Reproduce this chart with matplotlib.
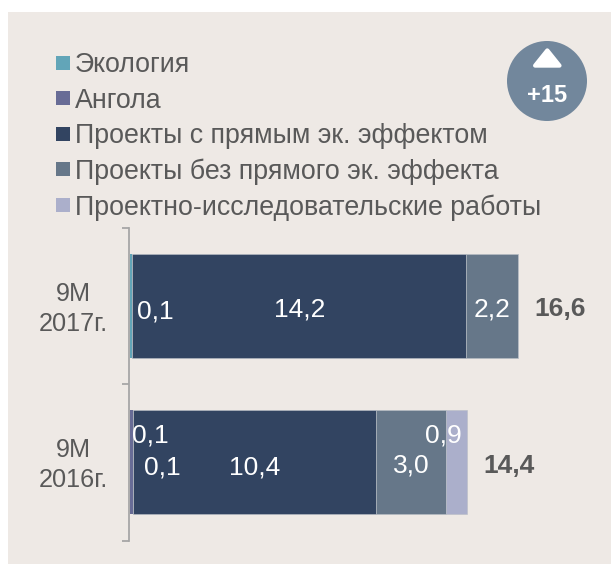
import matplotlib
matplotlib.use('Agg')
import matplotlib.pyplot as plt
from matplotlib.patches import Circle, Polygon, Rectangle

W, H = 611, 564

# data
periods = ['9M\n2017г.', '9M\n2016г.']
series_names = ['Экология', 'Ангола', 'Проекты с прямым эк. эффектом',
                'Проекты без прямого эк. эффекта', 'Проектно-исследовательские работы']
ecology = [0.1, 0.02]
angola = [0.0, 0.1]
direct = [14.25, 10.4]
indirect = [2.25, 3.0]
research = [0.0, 0.9]
totals = ['16,6', '14,4']
value_labels = ['0,1', '14,2', '2,2', '0,1', '0,1', '10,4', '0,9', '3,0']
badge_value = '+15'

colors = ['#62A5B8', '#686C96', '#324461', '#667789', '#ABAFCB']
bg = '#EEE9E5'
grey = '#595959'

plt.rcParams['font.family'] = ['Liberation Sans', 'DejaVu Sans']

fig = plt.figure(figsize=(W / 100, H / 100), dpi=100, facecolor='white')


def pixel_axes(zorder):
    a = fig.add_axes([0, 0, 1, 1], zorder=zorder)
    a.set_xlim(0, W)
    a.set_ylim(H, 0)
    a.axis('off')
    return a


back = pixel_axes(0)
back.add_patch(Rectangle((8, 12), W - 8, H - 12, facecolor=bg, edgecolor='none'))

# bars: 23.4 px per unit, left edge at x=130, axis spans y=228..540.5
left, right = 130, 600
top, bottom = 228, 540.5
ax = fig.add_axes([left / W, 1 - bottom / H, (right - left) / W, (bottom - top) / H], zorder=1)
ax.patch.set_alpha(0)
ax.set_xlim(0, (right - left) / 23.4)
ax.set_ylim(2, 0)
ypos = [0.5, 1.5]
start = [0.0, 0.0]
for i, (vals, c) in enumerate(zip([ecology, angola, direct, indirect, research], colors)):
    thin = i < 2
    ax.barh(ypos, vals, height=0.666, left=start, color=c, edgecolor='none' if thin else '#B9BEC6',
            linewidth=0 if thin else 0.4, zorder=3 if thin else 2)
    start = [s + v for s, v in zip(start, vals)]

for s in ['top', 'right', 'bottom']:
    ax.spines[s].set_visible(False)
ax.spines['left'].set_color('#A6A6A6')
ax.spines['left'].set_linewidth(1.3)
ax.spines['left'].set_position(('outward', 1))
ax.set_yticks([0, 1, 2])
ax.set_yticklabels([])
ax.set_xticks([])
ax.tick_params(axis='y', length=5, width=1.3, color='#A6A6A6')

front = pixel_axes(2)

# legend
legend_y = [62.5, 98, 133.5, 169, 205]
for name, c, y in zip(series_names, colors, legend_y):
    front.add_patch(Rectangle((56, y - 7), 14, 14, facecolor=c, edgecolor='none'))
    front.text(75, y + 2.5, name, fontsize=19.3, color=grey, ha='left', va='center')

# badge
front.add_patch(Circle((547, 81), 40, facecolor='#72879C', edgecolor='none'))
front.add_patch(Polygon([[547.3, 50.4], [559.5, 65.6], [535.1, 65.6]], closed=True, facecolor='white',
                        edgecolor='white', linewidth=3, joinstyle='round'))
front.text(547.3, 96, badge_value, fontsize=17, weight='bold', color='white', ha='center', va='center')

# category labels and totals
for label, y in zip(periods, [309, 465]):
    front.text(73.5, y, label, fontsize=18.2, color=grey, ha='center', va='center', linespacing=1.29)
for total, (x, y) in zip(totals, [(560.5, 309), (509, 466)]):
    front.text(x, y, total, fontsize=19, weight='bold', color=grey, ha='center', va='center')

# value labels
label_xy = [(155.7, 312), (300, 310), (491.7, 309), (150, 436), (162, 468), (255, 467), (443, 436), (411.7, 466)]
for text, (x, y) in zip(value_labels, label_xy):
    front.text(x, y, text, fontsize=19, color='white', ha='center', va='center')

fig.savefig('out.png', dpi=100, facecolor='white')
